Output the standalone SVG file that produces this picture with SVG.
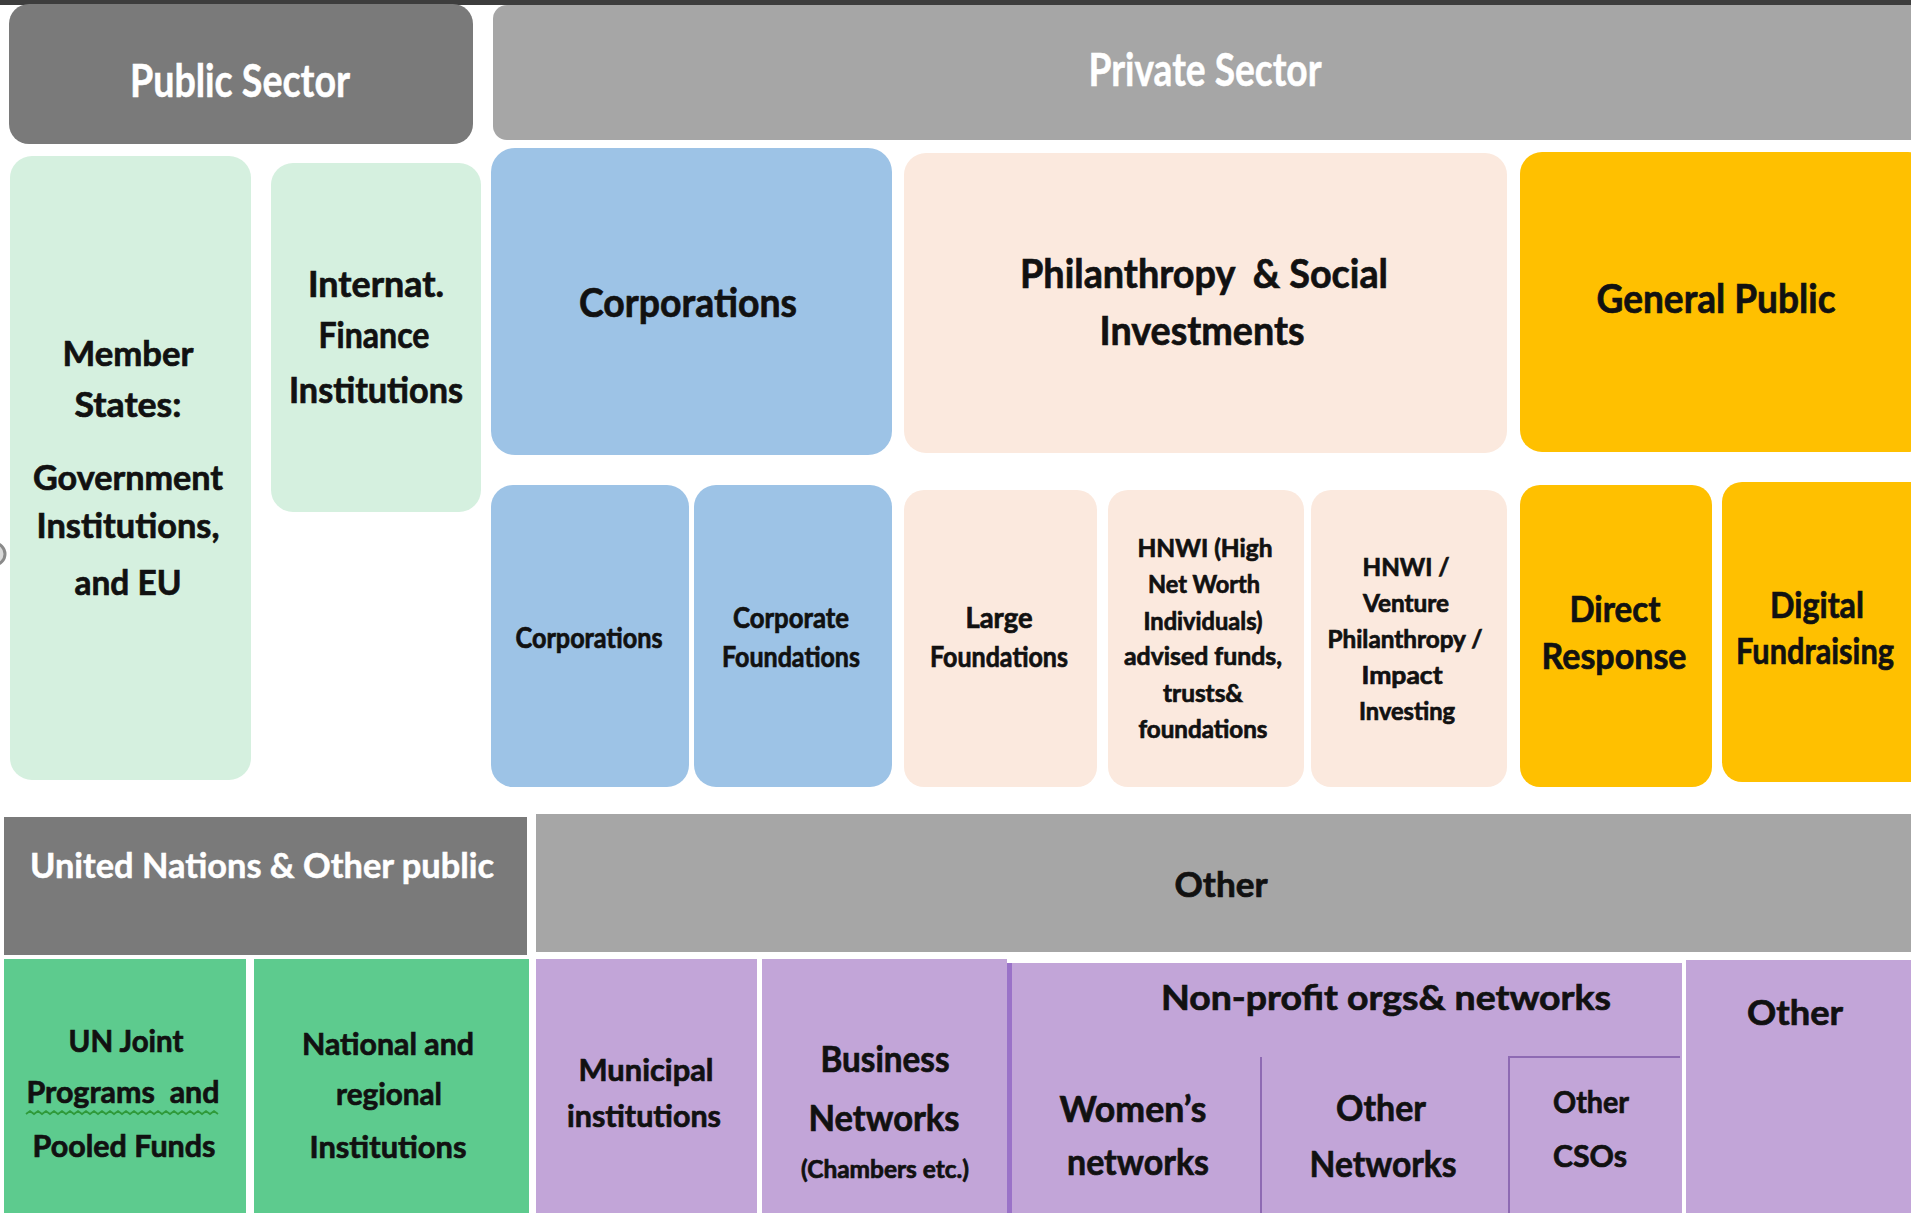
<svg xmlns="http://www.w3.org/2000/svg" width="1911" height="1213" viewBox="0 0 1911 1213">
  <style>
    text { font-family: Lato, "Open Sans", "Liberation Sans", sans-serif; font-weight: 700; text-anchor: middle; fill: #111111; stroke: #111111; stroke-width: 0.7; }
    .hdr { fill: #ffffff; stroke: #ffffff; stroke-width: 0.5; }
    .dark { fill: #7a7a7a; }
    .light { fill: #a6a6a6; }
    .mint { fill: #d5f0df; }
    .blue { fill: #9dc3e6; }
    .peach { fill: #fbe9de; }
    .gold { fill: #ffc000; }
    .green { fill: #5dcb8e; }
    .lilac { fill: #c2a5d8; }
    .rule { stroke: #8e6ab3; stroke-width: 2; fill: none; }
  </style>

  <rect x="0" y="0" width="1911" height="1213" fill="#ffffff"/>
  <rect x="0" y="0" width="1911" height="5" fill="#3d3d3d"/>
  <circle cx="-6" cy="554" r="11" fill="#d9d9d9" stroke="#8a8a8a" stroke-width="3"/>

  <!-- sector headers -->
  <g id="public-sector">
    <rect class="dark" x="9" y="4" width="464" height="140" rx="20"/>
    <text class="hdr" x="240" y="97" font-size="46" textLength="220" lengthAdjust="spacingAndGlyphs">Public Sector</text>
  </g>
  <g id="private-sector">
    <rect class="light" x="493" y="5" width="1440" height="135" rx="14"/>
    <text class="hdr" x="1205" y="86" font-size="45" textLength="233" lengthAdjust="spacingAndGlyphs">Private Sector</text>
  </g>

  <!-- public column -->
  <g id="member-states">
    <rect class="mint" x="10" y="156" width="241" height="624" rx="22"/>
    <g font-size="35">
      <text x="128" y="366" textLength="131" lengthAdjust="spacingAndGlyphs">Member</text>
      <text x="128" y="417" textLength="107" lengthAdjust="spacingAndGlyphs">States:</text>
      <text x="128" y="490" textLength="190" lengthAdjust="spacingAndGlyphs">Government</text>
      <text x="128" y="538" textLength="183" lengthAdjust="spacingAndGlyphs">Institutions,</text>
      <text x="128" y="595" textLength="107" lengthAdjust="spacingAndGlyphs">and EU</text>
    </g>
  </g>
  <g id="ifi">
    <rect class="mint" x="271" y="163" width="210" height="349" rx="22"/>
    <g font-size="36">
      <text x="376" y="297" textLength="136" lengthAdjust="spacingAndGlyphs">Internat.</text>
      <text x="374" y="348" textLength="111" lengthAdjust="spacingAndGlyphs">Finance</text>
      <text x="376" y="403" textLength="174" lengthAdjust="spacingAndGlyphs">Institutions</text>
    </g>
  </g>

  <!-- private: top tier -->
  <g id="corporations">
    <rect class="blue" x="491" y="148" width="401" height="307" rx="24"/>
    <text x="688" y="317" font-size="40" textLength="218" lengthAdjust="spacingAndGlyphs">Corporations</text>
  </g>
  <g id="philanthropy">
    <rect class="peach" x="904" y="153" width="603" height="300" rx="22"/>
    <text x="1204" y="288" font-size="41" textLength="368" lengthAdjust="spacingAndGlyphs" xml:space="preserve">Philanthropy  &amp; Social</text>
    <text x="1202" y="345" font-size="41" textLength="205" lengthAdjust="spacingAndGlyphs">Investments</text>
  </g>
  <g id="general-public">
    <rect class="gold" x="1520" y="152" width="410" height="300" rx="22"/>
    <text x="1716" y="313" font-size="40" textLength="239" lengthAdjust="spacingAndGlyphs">General Public</text>
  </g>

  <!-- private: second tier -->
  <g id="corporations-sub">
    <rect class="blue" x="491" y="485" width="198" height="302" rx="22"/>
    <text x="589" y="648" font-size="28" textLength="147" lengthAdjust="spacingAndGlyphs">Corporations</text>
  </g>
  <g id="corporate-foundations">
    <rect class="blue" x="694" y="485" width="198" height="302" rx="22"/>
    <text x="791" y="628" font-size="28" textLength="116" lengthAdjust="spacingAndGlyphs">Corporate</text>
    <text x="791" y="667" font-size="28" textLength="138" lengthAdjust="spacingAndGlyphs">Foundations</text>
  </g>
  <g id="large-foundations">
    <rect class="peach" x="904" y="490" width="193" height="297" rx="20"/>
    <text x="999" y="628" font-size="28" textLength="67" lengthAdjust="spacingAndGlyphs">Large</text>
    <text x="999" y="667" font-size="28" textLength="138" lengthAdjust="spacingAndGlyphs">Foundations</text>
  </g>
  <g id="hnwi-funds">
    <rect class="peach" x="1108" y="490" width="196" height="297" rx="20"/>
    <g font-size="24">
      <text x="1205" y="557" textLength="135" lengthAdjust="spacingAndGlyphs">HNWI (High</text>
      <text x="1204" y="593" textLength="112" lengthAdjust="spacingAndGlyphs">Net Worth</text>
      <text x="1203" y="630" textLength="119" lengthAdjust="spacingAndGlyphs">Individuals)</text>
      <text x="1203" y="665" textLength="158" lengthAdjust="spacingAndGlyphs">advised funds,</text>
      <text x="1203" y="702" textLength="80" lengthAdjust="spacingAndGlyphs">trusts&amp;</text>
      <text x="1203" y="738" textLength="129" lengthAdjust="spacingAndGlyphs">foundations</text>
    </g>
  </g>
  <g id="hnwi-venture">
    <rect class="peach" x="1311" y="490" width="196" height="297" rx="20"/>
    <g font-size="24">
      <text x="1406" y="576" textLength="87" lengthAdjust="spacingAndGlyphs">HNWI /</text>
      <text x="1406" y="612" textLength="86" lengthAdjust="spacingAndGlyphs">Venture</text>
      <text x="1405" y="648" textLength="155" lengthAdjust="spacingAndGlyphs">Philanthropy /</text>
      <text x="1402" y="684" textLength="81" lengthAdjust="spacingAndGlyphs">Impact</text>
      <text x="1407" y="720" textLength="96" lengthAdjust="spacingAndGlyphs">Investing</text>
    </g>
  </g>
  <g id="direct-response">
    <rect class="gold" x="1520" y="485" width="192" height="302" rx="20"/>
    <text x="1615" y="622" font-size="37" textLength="91" lengthAdjust="spacingAndGlyphs">Direct</text>
    <text x="1614" y="669" font-size="37" textLength="145" lengthAdjust="spacingAndGlyphs">Response</text>
  </g>
  <g id="digital-fundraising">
    <rect class="gold" x="1722" y="482" width="210" height="300" rx="20"/>
    <text x="1817" y="618" font-size="37" textLength="94" lengthAdjust="spacingAndGlyphs">Digital</text>
    <text x="1815" y="664" font-size="37" textLength="158" lengthAdjust="spacingAndGlyphs">Fundraising</text>
  </g>

  <!-- lower band headers -->
  <g id="un-other-public">
    <rect class="dark" x="4" y="817" width="523" height="138"/>
    <text class="hdr" x="262" y="878" font-size="35" textLength="464" lengthAdjust="spacingAndGlyphs">United Nations &amp; Other public</text>
  </g>
  <g id="other-header">
    <rect class="light" x="536" y="814" width="1380" height="138"/>
    <text x="1221" y="897" font-size="35" textLength="93" lengthAdjust="spacingAndGlyphs">Other</text>
  </g>

  <!-- lower band cells -->
  <g id="un-joint">
    <rect class="green" x="4" y="959" width="242" height="260"/>
    <g font-size="31">
      <text x="126" y="1052" textLength="115" lengthAdjust="spacingAndGlyphs">UN Joint</text>
      <text x="123" y="1103" textLength="193" lengthAdjust="spacingAndGlyphs" xml:space="preserve">Programs  and</text>
      <text x="124" y="1157" textLength="183" lengthAdjust="spacingAndGlyphs">Pooled Funds</text>
    </g>
    <path d="M26 1114 l4 -3 l4 3 l4 -3 l4 3 l4 -3 l4 3 l4 -3 l4 3 l4 -3 l4 3 l4 -3 l4 3 l4 -3 l4 3 l4 -3 l4 3 l4 -3 l4 3 l4 -3 l4 3 l4 -3 l4 3 l4 -3 l4 3 l4 -3 l4 3 l4 -3 l4 3 l4 -3 l4 3 l4 -3 l4 3 l4 -3 l4 3 l4 -3 l4 3 l4 -3 l4 3 l4 -3 l4 3 l4 -3 l4 3 l4 -3 l4 3 l4 -3 l4 3 l4 -3 l4 3" fill="none" stroke="#2f9a3a" stroke-width="1.8"/>
  </g>
  <g id="national-regional">
    <rect class="green" x="254" y="959" width="275" height="260"/>
    <g font-size="31">
      <text x="388" y="1055" textLength="172" lengthAdjust="spacingAndGlyphs">National and</text>
      <text x="389" y="1105" textLength="106" lengthAdjust="spacingAndGlyphs">regional</text>
      <text x="388" y="1158" textLength="157" lengthAdjust="spacingAndGlyphs">Institutions</text>
    </g>
  </g>
  <g id="municipal">
    <rect class="lilac" x="536" y="959" width="221" height="260"/>
    <text x="646" y="1081" font-size="31" textLength="135" lengthAdjust="spacingAndGlyphs">Municipal</text>
    <text x="644" y="1127" font-size="31" textLength="154" lengthAdjust="spacingAndGlyphs">institutions</text>
  </g>
  <g id="business-networks">
    <rect class="lilac" x="762" y="959" width="245" height="260"/>
    <text x="885" y="1072" font-size="36" textLength="129" lengthAdjust="spacingAndGlyphs">Business</text>
    <text x="884" y="1131" font-size="36" textLength="151" lengthAdjust="spacingAndGlyphs">Networks</text>
    <text x="885" y="1178" font-size="24" textLength="168" lengthAdjust="spacingAndGlyphs">(Chambers etc.)</text>
  </g>
  <g id="non-profit">
    <rect class="lilac" x="1007" y="963" width="675" height="260"/>
    <rect x="1007" y="963" width="5" height="260" fill="#9a72c8"/>
    <text x="1386" y="1010" font-size="35" textLength="450" lengthAdjust="spacingAndGlyphs">Non-profit orgs&amp; networks</text>
    <g id="womens-networks">
      <text x="1133" y="1122" font-size="37" textLength="147" lengthAdjust="spacingAndGlyphs">Women’s</text>
      <text x="1138" y="1175" font-size="37" textLength="142" lengthAdjust="spacingAndGlyphs">networks</text>
    </g>
    <g id="other-networks">
      <path class="rule" d="M1261 1057 V1213"/>
      <text x="1381" y="1121" font-size="37" textLength="90" lengthAdjust="spacingAndGlyphs">Other</text>
      <text x="1383" y="1177" font-size="37" textLength="147" lengthAdjust="spacingAndGlyphs">Networks</text>
    </g>
    <g id="other-csos">
      <path class="rule" d="M1509 1213 V1057 H1680"/>
      <text x="1591" y="1113" font-size="30" textLength="76" lengthAdjust="spacingAndGlyphs">Other</text>
      <text x="1590" y="1167" font-size="30" textLength="74" lengthAdjust="spacingAndGlyphs">CSOs</text>
    </g>
  </g>
  <g id="other-right">
    <rect class="lilac" x="1686" y="960" width="230" height="260"/>
    <text x="1795" y="1025" font-size="35" textLength="96" lengthAdjust="spacingAndGlyphs">Other</text>
  </g>

  <g id="connectors"/>
</svg>
